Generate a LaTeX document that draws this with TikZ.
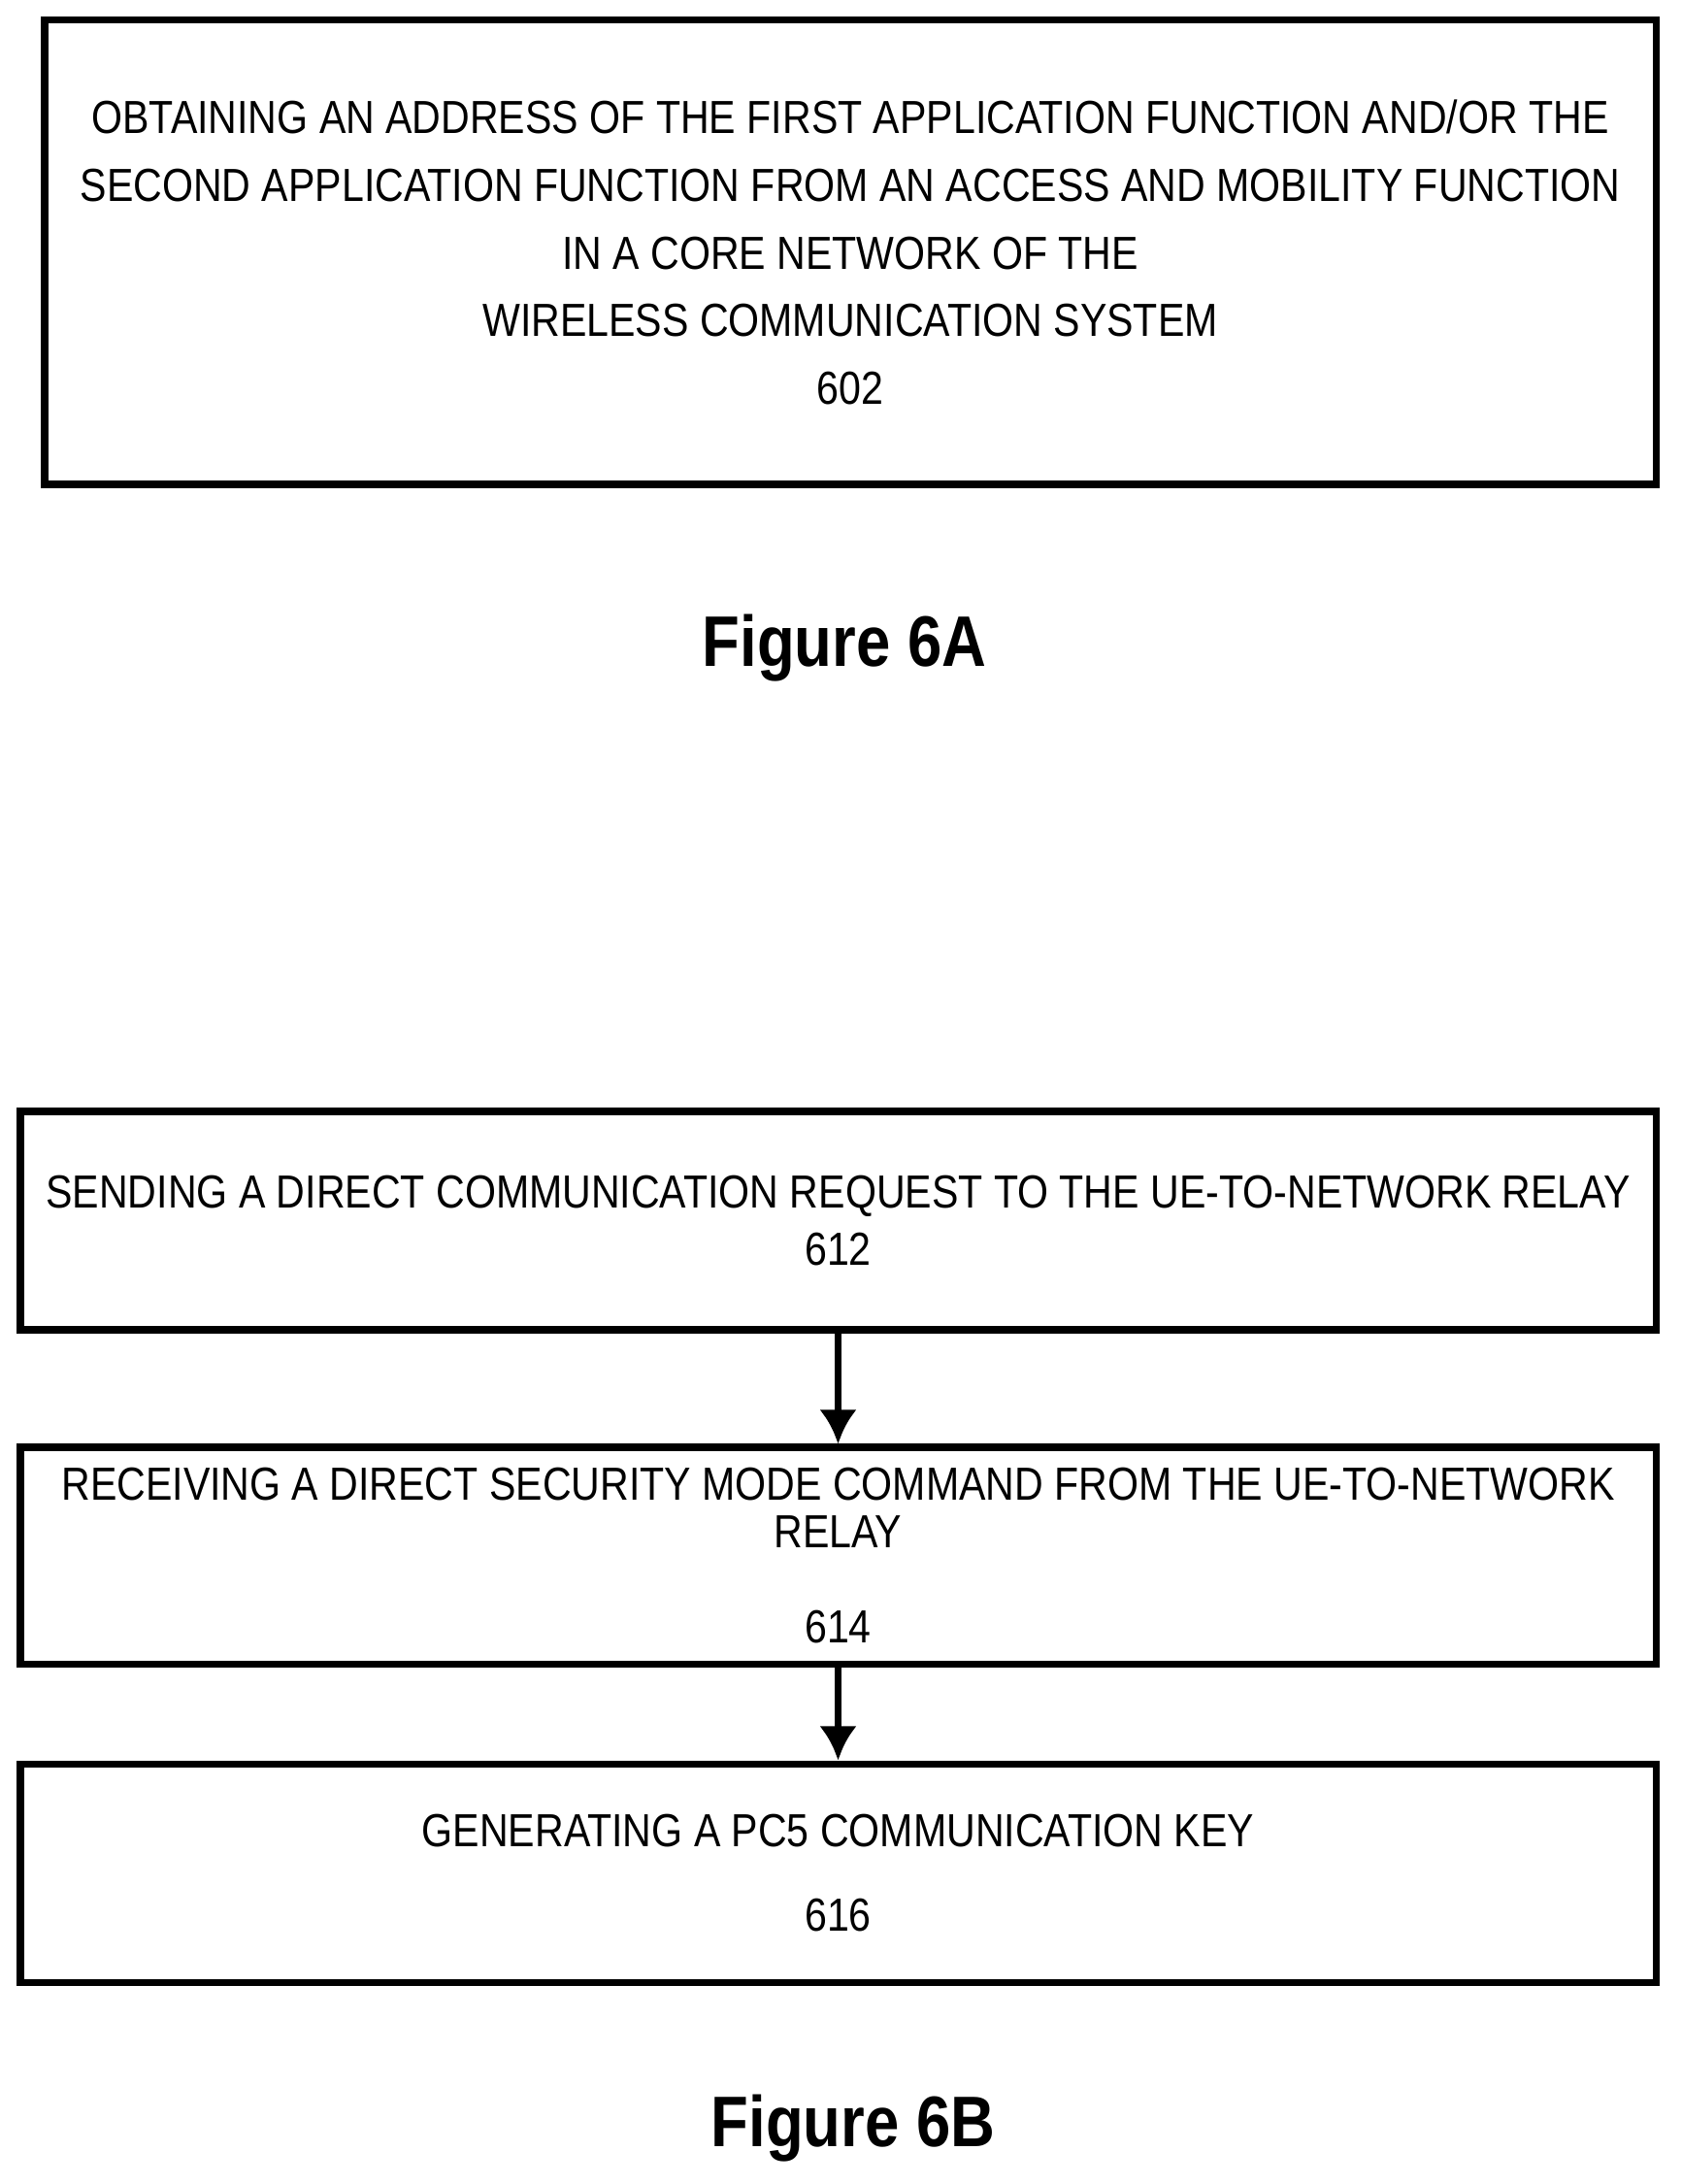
\documentclass[tikz,border=0pt]{standalone}
\usepackage{fontspec}
\setmainfont{Liberation Sans}[FakeStretch=0.86]
\usepackage{tikz}
\usetikzlibrary{arrows.meta,positioning}
\tikzset{stepbox/.style={draw,line width=2pt,align=center,font=\fontsize{13.6}{19.8}\selectfont},
  figlabel/.style={font=\bfseries\fontsize{21}{24}\selectfont}}
\begin{document}
\begin{tikzpicture}[>=Latex]
    \useasboundingbox (0,0) rectangle (17.32,-22.5);
    % Figure 6A
    \node[stepbox,minimum width=16.6cm,minimum height=4.78cm] (s602) at (8.76,-2.6)
      {OBTAINING AN ADDRESS OF THE FIRST APPLICATION FUNCTION AND/OR THE\\
       SECOND APPLICATION FUNCTION FROM AN ACCESS AND MOBILITY FUNCTION\\
       IN A CORE NETWORK OF THE\\ WIRELESS COMMUNICATION SYSTEM\\ 602};
    \node[figlabel] (fig6a) at (8.7,-6.68) {Figure 6A};

    % Figure 6B
    \node[stepbox,minimum width=16.85cm,minimum height=2.25cm] (s612) at (8.635,-12.575)
      {SENDING A DIRECT COMMUNICATION REQUEST TO THE UE-TO-NETWORK RELAY\\[-3pt] 612};
    \node[stepbox,minimum width=16.85cm,minimum height=2.23cm] (s614) at (8.635,-16.025)
      {RECEIVING A DIRECT SECURITY MODE COMMAND FROM THE UE-TO-NETWORK\\[-6pt] RELAY\\[8pt] 614};
    \node[stepbox,minimum width=16.85cm,minimum height=2.25cm] (s616) at (8.635,-19.295)
      {GENERATING A PC5 COMMUNICATION KEY\\[5pt] 616};
    \draw[->,line width=2pt,>={Latex[length=10pt,width=11pt]}] (s612) -- (s614);
    \draw[->,line width=2pt,>={Latex[length=10pt,width=11pt]}] (s614) -- (s616);
    \node[figlabel] (fig6b) at (8.79,-21.93) {Figure 6B};
\end{tikzpicture}
\end{document}
